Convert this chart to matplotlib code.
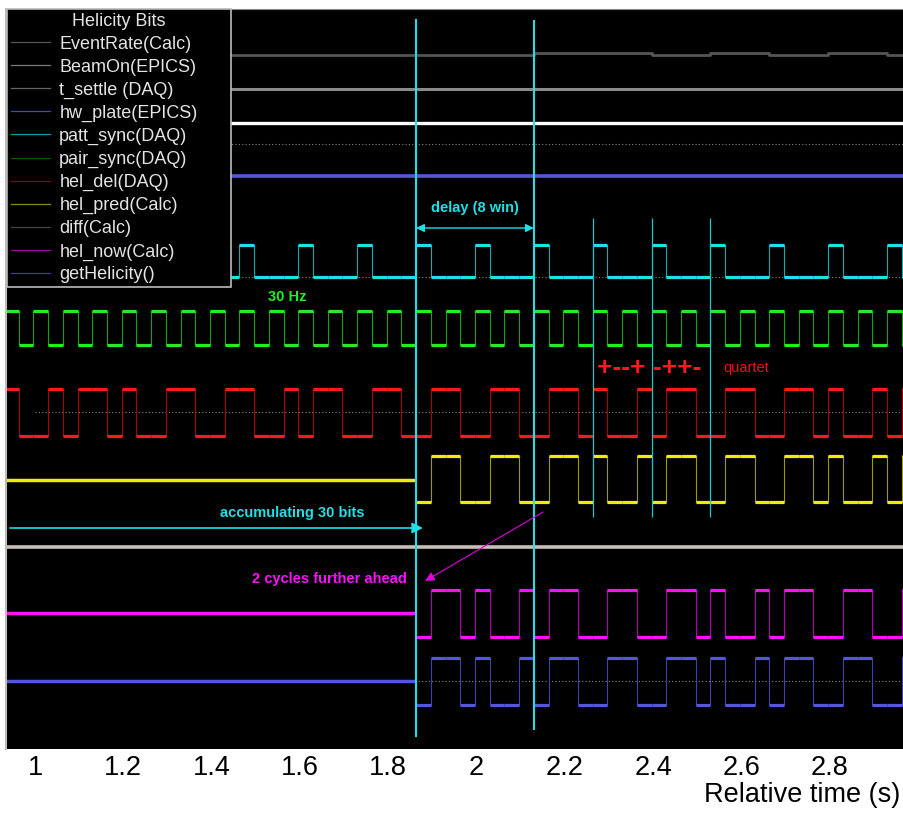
import numpy
import matplotlib
matplotlib.use("Agg")
import matplotlib.pyplot as plt
from matplotlib.lines import Line2D

plt.rcParams['font.family'] = ['Liberation Sans', 'DejaVu Sans']

# helicity windows at 30 Hz, window k=0 starts where the prediction starts
win = 1/30.
t_sync = 1.863
k_first = -28          # first window of the DAQ bits (k = -28 ... 33)

patt_sync = [1,0,0,0, 1,0,0,0, 1,0,0,0, 1,0,0,0,
             1,0,0,0, 1,0,0,0, 1,0,0,0, 1,0,0,0,
             1,0,0,0, 1,0,0,0, 1,0,0,0, 1,0,0,0,
             1,0,0,0, 1,0,0,0, 1,0,0,0, 1,0]
pair_sync = [1,0,1,0, 1,0,1,0, 1,0,1,0, 1,0,1,0,
             1,0,1,0, 1,0,1,0, 1,0,1,0, 1,0,1,0,
             1,0,1,0, 1,0,1,0, 1,0,1,0, 1,0,1,0,
             1,0,1,0, 1,0,1,0, 1,0,1,0, 1,0]
hel_del = [1,0,0,1, 0,1,1,0, 1,0,0,1, 1,0,0,1,
           1,0,0,1, 0,1,1,0, 0,1,1,0, 0,1,1,0,
           0,1,1,0, 0,1,1,0, 1,0,0,1, 0,1,1,0,
           0,1,1,0, 0,1,1,0, 1,0,0,1, 0,1]
# calculated bits, only from window k=0 on
hel_pred = [0,1,1,0, 0,1,1,0, 0,1,1,0, 1,0,0,1,
            0,1,1,0, 0,1,1,0, 0,1,1,0, 1,0,0,1, 0,1]
hel_now = [0,1,1,0, 1,0,0,1, 0,1,1,0, 0,1,1,0,
           0,1,1,0, 1,0,0,1, 0,1,1,0, 0,1,1,0, 0,1]
get_helicity = [0,1,1,0, 1,0,0,1, 0,1,1,0, 0,1,1,0,
                0,1,1,0, 1,0,0,1, 0,1,1,0, 0,1,1,0, 0,1]
# event rate per quartet (k = -28, -24, ... 32)
event_rate = [0,0,0,0, 0,0,0,0, 0,1,1,0, 1,0,1,0]

delay_lines = [0, 8]
quartet_lines = [12, 16, 20]
tick_vals = [1, 1.2, 1.4, 1.6, 1.8, 2, 2.2, 2.4, 2.6, 2.8]
tick_labels = ['1', '1.2', '1.4', '1.6', '1.8', '2', '2.2', '2.4', '2.6', '2.8']

legend_names = ['EventRate(Calc)', 'BeamOn(EPICS)', 't_settle (DAQ)', 'hw_plate(EPICS)',
                'patt_sync(DAQ)', 'pair_sync(DAQ)', 'hel_del(DAQ)', 'hel_pred(Calc)',
                'diff(Calc)', 'hel_now(Calc)', 'getHelicity()']
legend_colors = ['#555555', '#7a7a7a', '#666666', '#4444cc', '#00a0a8', '#0b5a0b',
                 '#8c0000', '#8c8c00', '#444444', '#a000a0', '#3a3aaa']

x_left, x_right = 0.9343, 2.968

fig = plt.figure(figsize=(9.04, 8.13), dpi=100)
ax = fig.add_axes([6/904, 1-749/813, 898/904, 740/813])
ax.set_facecolor('black')


def draw_bits(bits, k0, base, amp, col, col_v):
    b = numpy.array(bits)
    e = t_sync + (k0 + numpy.arange(len(b)+1))*win
    y = base + amp*b
    ax.step(e, numpy.append(y, y[-1]), where='post', color=col_v, lw=0.8)
    ax.hlines(y, e[:-1], e[1:], color=col, lw=2.3)


# flat slow-control lines
er = numpy.array(event_rate)
e4 = t_sync + (k_first + 4*numpy.arange(len(er)+1))*win
er_y = 694 + 2*er
ax.step(e4, numpy.append(er_y, er_y[-1]), where='post', color='#555555', lw=2)
ax.hlines(660, x_left, x_right, color='#8a8a8a', lw=2.2)
ax.hlines(626, x_left, x_right, color='white', lw=2.4)
ax.hlines(573, x_left, x_right, color='#5656d8', lw=2.6)
ax.hlines(202, x_left, x_right, color='#c8c0b6', lw=2.6)

# dotted zero lines
ax.hlines([605, 472, 337, 68], 1.0, x_right, color='#888888', lw=0.8, linestyles=(0, (1, 2)))

draw_bits(patt_sync, k_first, 472, 32, '#1ee0e6', '#14a8b0')
draw_bits(pair_sync, k_first, 404, 34, '#22ee22', '#16a016')
draw_bits(hel_del, k_first, 313, 47, '#ff1a1a', '#b00000')

ax.hlines(269, x_left, t_sync, color='#eeee00', lw=2.5)
ax.hlines(136, x_left, t_sync, color='#ff11ff', lw=2.5)
ax.hlines(68, x_left, t_sync, color='#5555dd', lw=2.5)
draw_bits(hel_pred, 0, 247, 46, '#eeee00', '#9a9a00')
draw_bits(hel_now, 0, 112, 47, '#ff11ff', '#b000b0')
draw_bits(get_helicity, 0, 44, 47, '#5555dd', '#4040b0')

# marker lines
ax.vlines(t_sync + numpy.array(delay_lines)*win, [12, 19], [730, 729], color='#1ee0e6', lw=1.5, zorder=5)
ax.vlines(t_sync + numpy.array(quartet_lines)*win, 232, 531, color='#22c4cc', lw=0.9, zorder=5)

# annotations
ax.annotate('', xy=(t_sync, 521), xytext=(t_sync + 8*win, 521),
            arrowprops=dict(arrowstyle='<|-|>', color='#1ee0e6', lw=1, mutation_scale=12,
                            shrinkA=0, shrinkB=0), zorder=6)
ax.text(t_sync + 4*win, 541, 'delay (8 win)', color='#1ee0e6', fontsize=10.5,
        fontweight='bold', ha='center', va='center')
ax.annotate('', xy=(1.8785, 221), xytext=(0.9433, 221),
            arrowprops=dict(arrowstyle='-|>', color='#1ee0e6', lw=1.2, mutation_scale=16,
                            shrinkA=0, shrinkB=0), zorder=6)
ax.text(1.582, 236, 'accumulating 30 bits', color='#1ee0e6', fontsize=10.5,
        fontweight='bold', ha='center', va='center')
ax.text(1.5708, 452, '30 Hz', color='#22ee22', fontsize=10.5, fontweight='bold',
        ha='center', va='center')
ax.text(2.2729, 381, '+--+ -++-', color='#ff1a1a', fontsize=19, fontweight='bold',
        ha='left', va='center')
ax.text(2.5583, 381, 'quartet', color='#ee1111', fontsize=10.5, ha='left', va='center')
ax.annotate('', xy=(1.8834, 168), xytext=(2.1506, 237),
            arrowprops=dict(arrowstyle='-|>', color='#dd00dd', lw=0.8, mutation_scale=14,
                            shrinkA=0, shrinkB=0), zorder=6)
ax.text(1.8426, 170, '2 cycles further ahead', color='#ff11ff', fontsize=10.5,
        fontweight='bold', ha='right', va='center')

ax.set_xlim(x_left, x_right)
ax.set_ylim(0, 740)
ax.set_yticks([])
ax.set_xticks(tick_vals)
ax.set_xticklabels(tick_labels, fontsize=19.5)
ax.tick_params(axis='x', length=0, pad=4.5)
for s in ['right', 'bottom']:
    ax.spines[s].set_visible(False)
ax.spines['left'].set_color('#bbbbbb')
ax.spines['left'].set_linewidth(1.5)
ax.spines['top'].set_color('#888888')
ax.spines['top'].set_linestyle((0, (1, 1)))

handles = [Line2D([], [], color=c, lw=0.9) for c in legend_colors]
leg = ax.legend(handles, legend_names, title='Helicity Bits', loc='upper left',
                bbox_to_anchor=(0.001, 0, 0.2494, 1.0), mode='expand', fontsize=13,
                title_fontsize=13, labelcolor='#e4e4e4', facecolor='black',
                edgecolor='#bbbbbb', framealpha=1, fancybox=False, borderpad=0.2,
                labelspacing=0.33, handlelength=2.2, handletextpad=0.5, borderaxespad=0)
leg.get_title().set_color('#e4e4e4')
leg.get_frame().set_linewidth(1.2)
leg.set_zorder(10)

fig.text(900/904, 1-802/813, 'Relative time (s)', ha='right', va='baseline', fontsize=19.5)

fig.savefig('out.png', dpi=100)
